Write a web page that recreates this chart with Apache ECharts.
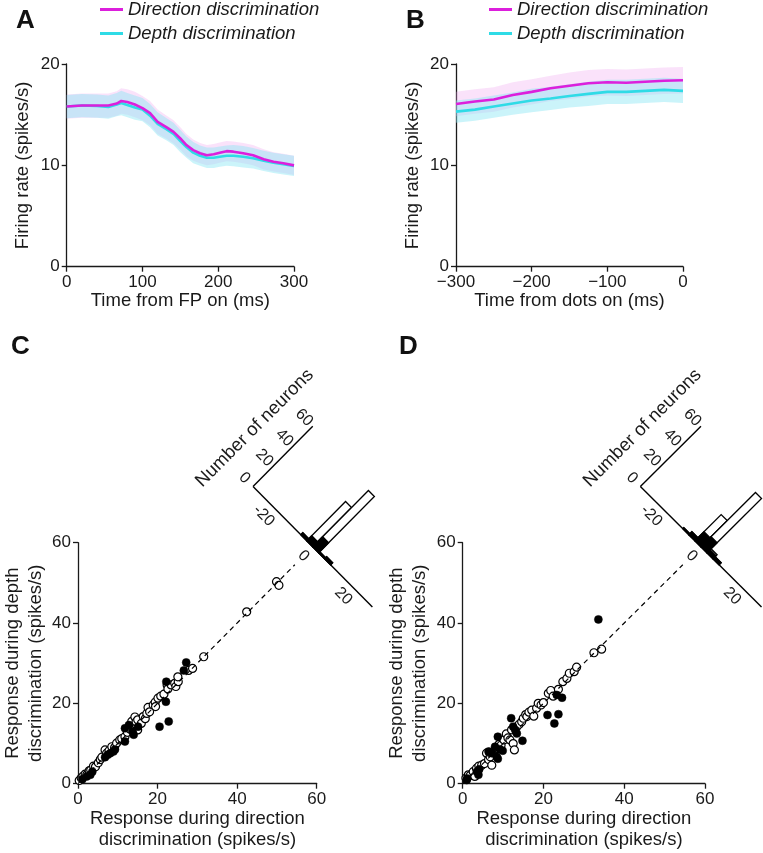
<!DOCTYPE html>
<html><head><meta charset="utf-8">
<script src="https://cdn.jsdelivr.net/npm/echarts@6/dist/echarts.min.js"></script>
<style>html,body{margin:0;padding:0;background:#fff}#c{width:763px;height:853px}</style>
</head><body><div id="c"></div>
<script>
// ---------- Panel A: time from FP on ----------
const timeA = [0,20,40,55,66,72,80,90,100,110,120,132,141,150,158,167,176,185,194,202,211,220,233,246,260,273,286,300];
const dirA = [15.8,15.9,15.9,15.9,16.1,16.35,16.25,16.0,15.65,15.15,14.3,13.75,13.3,12.65,12.0,11.5,11.2,11.0,11.1,11.25,11.4,11.35,11.2,11.0,10.6,10.35,10.2,10.0];
const depA = [15.8,15.9,15.85,15.75,16.0,16.15,15.95,15.7,15.5,14.9,14.1,13.55,13.1,12.4,11.8,11.25,10.95,10.75,10.75,10.85,10.95,10.95,10.85,10.7,10.45,10.25,10.1,9.95];
const dirAerr = [1.2,1.2,1.2,1.2,1.2,1.25,1.25,1.25,1.2,1.2,1.2,1.15,1.15,1.1,1.1,1.05,1.0,1.0,1.0,1.0,1.0,1.0,1.0,1.0,1.0,0.95,0.95,0.95];
const depAerr = [1.15,1.15,1.15,1.15,1.15,1.2,1.2,1.2,1.15,1.15,1.15,1.1,1.1,1.1,1.05,1.05,1.0,1.0,1.0,1.0,1.0,1.05,1.05,1.0,1.0,1.0,1.0,1.0];
// ---------- Panel B: time from dots on ----------
const timeB = [-300,-275,-250,-225,-200,-175,-150,-125,-100,-75,-50,-25,0];
const dirB = [16.05,16.3,16.5,16.95,17.25,17.6,17.85,18.1,18.2,18.15,18.25,18.35,18.4];
const depB = [15.3,15.5,15.8,16.1,16.4,16.6,16.85,17.05,17.25,17.25,17.35,17.45,17.35];
const dirBerr = [1.2,1.2,1.2,1.25,1.25,1.25,1.3,1.3,1.3,1.3,1.3,1.3,1.3];
const depBerr = [1.1,1.1,1.1,1.1,1.15,1.15,1.15,1.2,1.2,1.2,1.2,1.2,1.2];
const legendNames = ['Direction discrimination','Depth discrimination'];
// ---------- Panel C scatter [direction, depth] ----------
const openC = [[0.3,0.8],[0.8,1.4],[1.2,1.8],[1.8,2.4],[2.2,2.2],[2.8,3.2],[3.2,3.4],[3.9,4.4],[4.4,4.2],[5.1,5.2],[5.6,6.0],[6.0,6.6],[6.8,8.4],[7.2,7.6],[7.8,8.2],[8.5,9.2],[9.2,9.0],[9.7,10.1],[10.5,10.9],[11.0,11.2],[11.8,11.7],[12.4,12.8],[13.0,13.6],[13.5,15.5],[14.3,16.6],[14.6,15.4],[15.0,13.4],[15.0,15.9],[15.9,15.0],[16.4,16.7],[16.9,16.2],[17.3,17.5],[17.6,19.0],[18.0,17.9],[18.9,19.6],[19.4,20.3],[19.5,19.2],[20.1,21.3],[20.8,21.8],[21.6,22.3],[22.4,24.6],[22.6,23.6],[23.4,24.6],[24.3,25.0],[24.6,24.2],[25.2,25.4],[25.1,26.6],[27.8,28.2],[28.8,28.7],[31.6,31.6],[42.4,42.8],[49.9,50.3],[50.5,49.4]];
const filledC = [[1.1,1.1],[2.2,1.8],[3.1,2.2],[3.6,3.0],[6.8,6.6],[7.5,7.2],[8.1,7.6],[8.9,8.0],[9.3,8.5],[11.8,10.5],[11.8,13.8],[12.8,14.6],[13.7,13.0],[14.0,12.2],[15.1,14.2],[20.5,14.2],[22.8,15.5],[22.1,20.4],[22.2,25.4],[26.6,28.2],[27.2,30.2]];
// ---------- Panel D scatter ----------
const openD = [[0.8,1.4],[1.4,2.2],[1.8,2.0],[2.6,3.0],[3.0,1.8],[3.4,3.8],[4.0,4.4],[4.7,4.6],[5.4,5.0],[5.9,7.6],[6.4,6.0],[6.8,6.7],[6.6,7.8],[7.2,4.6],[7.8,8.2],[8.4,8.8],[9.0,9.8],[9.5,9.6],[10.2,10.9],[10.8,12.4],[11.2,11.4],[11.7,10.9],[12.1,13.4],[12.5,10.0],[12.8,8.4],[13.4,14.2],[14.0,14.8],[14.6,15.4],[15.0,16.3],[15.6,17.2],[15.9,16.7],[16.4,17.8],[17.1,18.3],[17.6,16.8],[18.3,18.8],[18.7,20.0],[19.4,19.6],[20.0,20.2],[21.2,22.5],[21.8,23.2],[22.4,21.8],[23.7,23.5],[24.8,25.4],[25.8,26.2],[26.4,27.5],[27.6,27.9],[28.2,29.0],[32.5,32.6],[34.4,33.5]];
const filledD = [[1.0,0.9],[1.1,1.3],[3.5,3.0],[3.9,2.2],[4.1,3.6],[6.4,8.0],[7.2,7.6],[8.0,9.2],[8.4,6.7],[8.7,6.2],[8.7,11.7],[9.2,8.6],[9.9,8.2],[12.0,16.3],[12.5,14.2],[13.0,13.4],[13.4,12.5],[14.8,10.7],[21.0,17.1],[22.7,15.0],[23.3,22.1],[23.7,17.3],[24.6,21.4],[33.6,40.9]];
const unityLine = [0, 54.5];
// ---------- Diagonal histograms (direction - depth) ----------
const histEdges = [-9,-6,-3,0,3,6,9];
const histAllC = [0,2,39,56,1,2];
const histSigC = [0,2,5,10,1,2];
const histAllD = [1,3,26,54,4,2];
const histSigD = [1,3,9,10,3,2];
const histRange = [-30, 30];
const histTicks = [-20, 0, 20];
const countRange = [0, 60];
const countTicks = [0, 20, 40, 60];

// ---------- layout constants ----------
const FONT = 'Liberation Sans, Arial, Helvetica, sans-serif';
const INK = '#1a1a1a';
const MAG = '#dc1fdc', CYA = '#2fdbe6';
const PINK_BAND = 'rgba(240,160,240,0.30)', CYAN_BAND = 'rgba(140,230,245,0.45)';
const HC = 59, HK = 0.25; // histogram origin on unity line, data units per count
function histPt(d, n) { return [HC + d / 2 + n * HK, HC - d / 2 + n * HK]; }
const minus = v => (v < 0 ? '\u2212' + Math.abs(v) : String(v));

function axisCommon(extra) {
  return Object.assign({
    axisLine: { show: true, onZero: false, lineStyle: { color: INK, width: 1.3 } },
    axisTick: { show: true, length: 5, lineStyle: { color: INK, width: 1.3 } },
    axisLabel: { color: INK, fontSize: 17, fontFamily: FONT, margin: 7 },
    splitLine: { show: false },
    nameLocation: 'middle',
    nameTextStyle: { color: INK, fontSize: 18.5, fontFamily: FONT }
  }, extra);
}

const grids = [
  { left: 66.7, top: 64, width: 227.3, height: 202.7 },
  { left: 456, top: 64, width: 227, height: 202.7 },
  { left: 76, top: 542.7, width: 240.7, height: 241 },
  { left: 462.7, top: 542.7, width: 242.3, height: 241 }
];
const xAxes = [
  axisCommon({ gridIndex: 0, type: 'value', min: 0, max: 300, interval: 100, name: 'Time from FP on (ms)', nameGap: 24 }),
  axisCommon({ gridIndex: 1, type: 'value', min: -300, max: 0, interval: 100, name: 'Time from dots on (ms)', nameGap: 24, axisLabel: { color: INK, fontSize: 17, fontFamily: FONT, margin: 7, formatter: minus } }),
  axisCommon({ gridIndex: 2, type: 'value', min: 0, max: 60, interval: 20, name: 'Response during direction\ndiscrimination (spikes/s)', nameGap: 25, nameTextStyle: { color: INK, fontSize: 18.5, fontFamily: FONT, lineHeight: 21 } }),
  axisCommon({ gridIndex: 3, type: 'value', min: 0, max: 60, interval: 20, name: 'Response during direction\ndiscrimination (spikes/s)', nameGap: 25, nameTextStyle: { color: INK, fontSize: 18.5, fontFamily: FONT, lineHeight: 21 } })
];
const yAxes = [
  axisCommon({ gridIndex: 0, type: 'value', min: 0, max: 20, interval: 10, name: 'Firing rate (spikes/s)', nameGap: 34 }),
  axisCommon({ gridIndex: 1, type: 'value', min: 0, max: 20, interval: 10, name: 'Firing rate (spikes/s)', nameGap: 34 }),
  axisCommon({ gridIndex: 2, type: 'value', min: 0, max: 60, interval: 20, name: 'Response during depth\ndiscrimination (spikes/s)', nameGap: 31, nameTextStyle: { color: INK, fontSize: 18.5, fontFamily: FONT, lineHeight: 23 } }),
  axisCommon({ gridIndex: 3, type: 'value', min: 0, max: 60, interval: 20, name: 'Response during depth\ndiscrimination (spikes/s)', nameGap: 31, nameTextStyle: { color: INK, fontSize: 18.5, fontFamily: FONT, lineHeight: 23 } })
];

const series = [];
function bandSeries(idx, xs, mean, err, color) {
  series.push({
    type: 'custom', coordinateSystem: 'cartesian2d', xAxisIndex: idx, yAxisIndex: idx, silent: true, clip: true,
    data: [[xs[0], mean[0]]],
    renderItem: function (params, api) {
      const up = xs.map((t, i) => api.coord([t, mean[i] + err[i]]));
      const lo = xs.map((t, i) => api.coord([t, mean[i] - err[i]])).reverse();
      return { type: 'polygon', shape: { points: up.concat(lo) }, style: { fill: color } };
    }
  });
}
function meanSeries(idx, xs, mean, name, color) {
  series.push({ type: 'line', name: name, xAxisIndex: idx, yAxisIndex: idx, symbol: 'none', silent: true,
    itemStyle: { color: color }, lineStyle: { color: color, width: 2.6 }, data: xs.map((t, i) => [t, mean[i]]) });
}
bandSeries(0, timeA, dirA, dirAerr, PINK_BAND);
bandSeries(0, timeA, depA, depAerr, CYAN_BAND);
meanSeries(0, timeA, depA, legendNames[1], CYA);
meanSeries(0, timeA, dirA, legendNames[0], MAG);
bandSeries(1, timeB, dirB, dirBerr, PINK_BAND);
bandSeries(1, timeB, depB, depBerr, CYAN_BAND);
meanSeries(1, timeB, depB, legendNames[1], CYA);
meanSeries(1, timeB, dirB, legendNames[0], MAG);

function histBars(idx, counts, fill) {
  const data = counts.map((n, i) => [histEdges[i], histEdges[i + 1], n]).filter(r => r[2] > 0);
  series.push({
    type: 'custom', coordinateSystem: 'cartesian2d', xAxisIndex: idx, yAxisIndex: idx, clip: false, silent: true,
    data: data,
    renderItem: function (params, api) {
      const d0 = api.value(0), d1 = api.value(1), n = api.value(2);
      const pts = [histPt(d0, 0), histPt(d1, 0), histPt(d1, n), histPt(d0, n)].map(p => api.coord(p));
      return { type: 'polygon', shape: { points: pts }, style: { fill: fill, stroke: '#000', lineWidth: 1.3 } };
    }
  });
}
function histAxes(idx) {
  series.push({
    type: 'custom', coordinateSystem: 'cartesian2d', xAxisIndex: idx, yAxisIndex: idx, clip: false, silent: true,
    data: [[0, 0]],
    renderItem: function (params, api) {
      const P = (d, n) => api.coord(histPt(d, n));
      const s = Math.SQRT1_2;
      const ch = [];
      const a0 = P(histRange[0], 0), a1 = P(histRange[1], 0), c1 = P(histRange[0], countRange[1]);
      const ls = { stroke: '#000', lineWidth: 1.4 };
      ch.push({ type: 'line', shape: { x1: a0[0], y1: a0[1], x2: a1[0], y2: a1[1] }, style: ls });
      ch.push({ type: 'line', shape: { x1: a0[0], y1: a0[1], x2: c1[0], y2: c1[1] }, style: ls });
      const ts = t => ({ text: t, fontSize: 16, fontFamily: FONT, fill: INK, align: 'center', verticalAlign: 'middle' });
      histTicks.forEach(v => {
        const p = P(v, 0);
        ch.push({ type: 'text', x: p[0] - 13 * s, y: p[1] + 13 * s, rotation: -Math.PI / 4, style: ts(v < 0 ? '-' + Math.abs(v) : String(v)) });
      });
      countTicks.forEach(v => {
        const p = P(histRange[0], v);
        ch.push({ type: 'text', x: p[0] - 12 * s, y: p[1] - 12 * s, rotation: -Math.PI / 4, style: ts(String(v)) });
      });
      const m = P(histRange[0], (countRange[0] + countRange[1]) / 2);
      ch.push({ type: 'text', x: m[0] - 40 * s, y: m[1] - 40 * s, rotation: Math.PI / 4,
        style: { text: 'Number of neurons', fontSize: 18.5, fontFamily: FONT, fill: INK, align: 'center', verticalAlign: 'middle' } });
      return { type: 'group', children: ch };
    }
  });
}
function scatterPanel(idx, openPts, filledPts, all, sig) {
  series.push({ type: 'line', xAxisIndex: idx, yAxisIndex: idx, symbol: 'none', silent: true,
    lineStyle: { color: '#000', width: 1.2, type: [5, 4] }, data: [[unityLine[0], unityLine[0]], [unityLine[1], unityLine[1]]] });
  series.push({ type: 'scatter', xAxisIndex: idx, yAxisIndex: idx, symbolSize: 8, silent: true,
    itemStyle: { color: '#fff', borderColor: '#000', borderWidth: 1.2, opacity: 1 }, data: openPts });
  series.push({ type: 'scatter', xAxisIndex: idx, yAxisIndex: idx, symbolSize: 8, silent: true,
    itemStyle: { color: '#000', borderColor: '#000', borderWidth: 0.5, opacity: 1 }, data: filledPts });
  histAxes(idx);
  histBars(idx, all, '#fff');
  histBars(idx, sig, '#000');
}
scatterPanel(2, openC, filledC, histAllC, histSigC);
scatterPanel(3, openD, filledD, histAllD, histSigD);

const legendCommon = {
  data: legendNames, orient: 'vertical', icon: 'rect', itemWidth: 23, itemHeight: 3, itemGap: 5, padding: 0,
  selectedMode: false,
  textStyle: { color: INK, fontSize: 18.5, fontStyle: 'italic', fontFamily: FONT }
};
const letter = (t, x, y) => ({ type: 'text', left: x, top: y, style: { text: t, fontSize: 26, fontWeight: 'bold', fontFamily: FONT, fill: '#111' } });

const chart = echarts.init(document.getElementById('c'), null, { renderer: 'canvas' });
chart.setOption({
  animation: false,
  backgroundColor: '#fff',
  grid: grids,
  xAxis: xAxes,
  yAxis: yAxes,
  legend: [Object.assign({ left: 100, top: 0 }, legendCommon), Object.assign({ left: 489, top: 0 }, legendCommon)],
  graphic: [letter('A', 16, 8), letter('B', 406, 8), letter('C', 11, 334), letter('D', 399, 334)],
  series: series
});
</script></body></html>
